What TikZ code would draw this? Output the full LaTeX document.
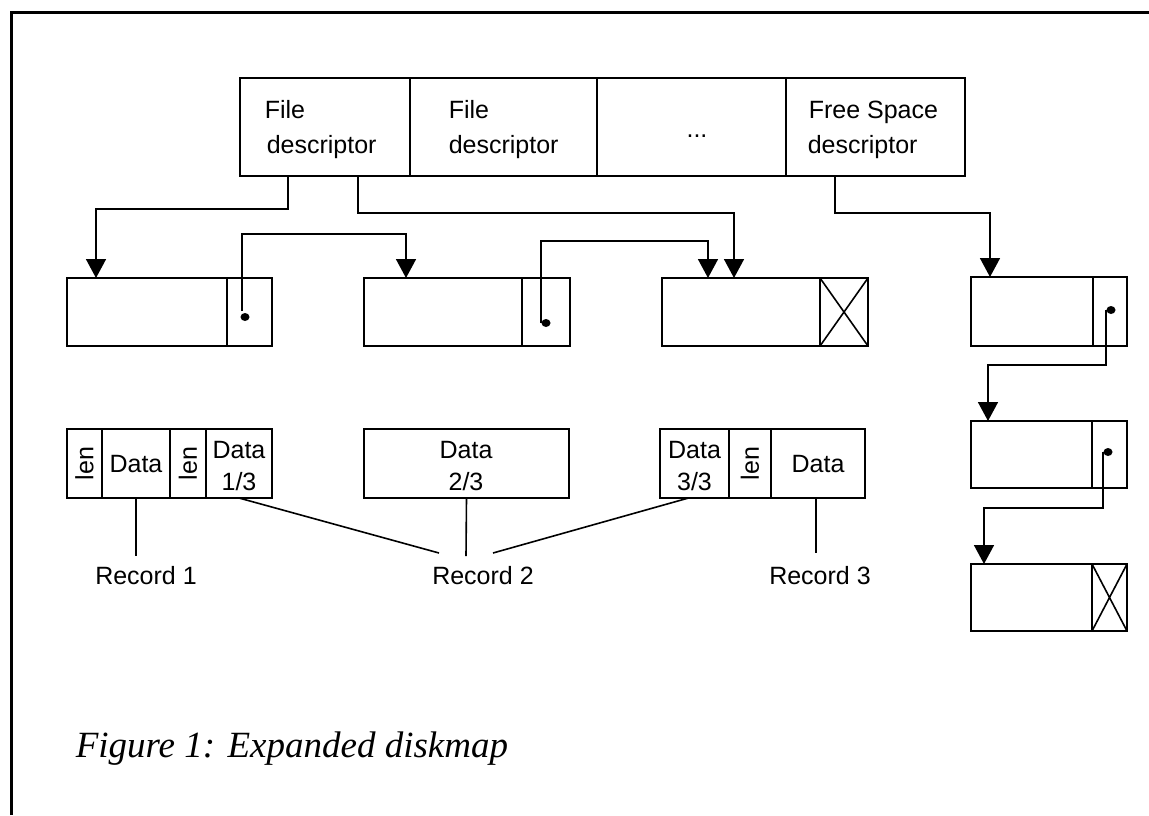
\documentclass[tikz,border=0pt]{standalone}
\usepackage{fontspec}
\setmainfont{Liberation Sans}
\newfontfamily\capfont{Liberation Serif}
\usetikzlibrary{arrows.meta,shapes.geometric}
\begin{document}
\begin{tikzpicture}[x=1pt,y=-1pt,
  line width=1.6pt,
  cell/.style={draw, rectangle, inner sep=0pt, outer sep=0pt, anchor=north west},
  arr/.style={-{Triangle[width=20pt,length=19pt]}},
  dot/.style={ellipse, fill, inner sep=0pt, minimum width=9pt, minimum height=8pt},
  lbl/.style={font=\fontsize{25}{33}\selectfont, inner sep=0pt, anchor=base},
  lblw/.style={font=\fontsize{25}{33}\selectfont, inner sep=0pt, anchor=base west},
  rlbl/.style={font=\fontsize{25}{33}\selectfont, inner sep=0pt, rotate=90},
]
\useasboundingbox (0,0) rectangle (1149,815);
% frame
\draw[line width=3pt] (11,815) -- (11,12) -- (1149,12);

% descriptor table
\node[cell, minimum width=170, minimum height=98] (d1) at (240,78) {};
\node[cell, minimum width=187, minimum height=98] (d2) at (410,78) {};
\node[cell, minimum width=189, minimum height=98] (d3) at (597,78) {};
\node[cell, minimum width=179, minimum height=98] (d4) at (786,78) {};
\node[lblw] (t1a) at (264,118) {File};
\node[lblw] (t1b) at (266,153) {descriptor};
\node[lblw] (t2a) at (448,118) {File};
\node[lblw] (t2b) at (448,153) {descriptor};
\node[lbl] (t3) at (697,137) {...};
\node[lblw] (t4a) at (808,118) {Free Space};
\node[lblw] (t4b) at (807,153) {descriptor};

% first row of blocks
\node[cell, minimum width=160, minimum height=68] (b1m) at (67,278) {};
\node[cell, minimum width=45, minimum height=68] (b1p) at (227,278) {};
\node[cell, minimum width=158, minimum height=68] (b2m) at (364,278) {};
\node[cell, minimum width=48, minimum height=68] (b2p) at (522,278) {};
\node[cell, minimum width=158, minimum height=68] (b3m) at (662,278) {};
\node[cell, minimum width=48, minimum height=68] (b3x) at (820,278) {};
\draw (b3x.north west) -- (b3x.south east) (b3x.south west) -- (b3x.north east);

% free space chain
\node[cell, minimum width=122, minimum height=69] (b4m) at (971,277) {};
\node[cell, minimum width=34, minimum height=69] (b4p) at (1093,277) {};
\node[cell, minimum width=121, minimum height=67] (b5m) at (971,421) {};
\node[cell, minimum width=35, minimum height=67] (b5p) at (1092,421) {};
\node[cell, minimum width=121, minimum height=67] (b6m) at (971,564) {};
\node[cell, minimum width=35, minimum height=67] (b6x) at (1092,564) {};
\draw (b6x.north west) -- (b6x.south east) (b6x.south west) -- (b6x.north east);

% pointer dots
\node[dot] (p1) at (245,317) {};
\node[dot] (p2) at (546,323) {};
\node[dot] (p4) at (1111,310) {};
\node[dot] (p5) at (1108,452) {};

% connectors from descriptors
\draw[arr] ([xshift=-37pt]d1.south) |- ([xshift=29pt,yshift=69pt]b1m.north west) -- ([xshift=29pt]b1m.north west);
\draw[arr] ([xshift=33pt]d1.south) |- ([xshift=72pt,yshift=65pt]b3m.north west) -- ([xshift=72pt]b3m.north west);
\draw[arr] ([xshift=-40.5pt]d4.south) |- ([xshift=19pt,yshift=64pt]b4m.north west) -- ([xshift=19pt]b4m.north west);

% chain pointers
\draw[arr] ([xshift=-3pt,yshift=6pt]p1.center) |- ([xshift=42pt,yshift=44pt]b2m.north west) -- ([xshift=42pt]b2m.north west);
\draw[arr] (p2.west) |- ([xshift=46pt,yshift=37pt]b3m.north west) -- ([xshift=46pt]b3m.north west);
\draw[arr] (p4.west) |- ([xshift=17pt,yshift=56pt]b5m.north west) -- ([xshift=17pt]b5m.north west);
\draw[arr] (p5.west) |- ([xshift=13pt,yshift=56pt]b6m.north west) -- ([xshift=13pt]b6m.north west);

% records
\node[cell, minimum width=35, minimum height=69] (r1a) at (67,429) {};
\node[cell, minimum width=68, minimum height=69] (r1b) at (102,429) {};
\node[cell, minimum width=36, minimum height=69] (r1c) at (170,429) {};
\node[cell, minimum width=66, minimum height=69] (r1d) at (206,429) {};
\node[cell, minimum width=205, minimum height=69] (r2) at (364,429) {};
\node[cell, minimum width=69, minimum height=69] (r3a) at (660,429) {};
\node[cell, minimum width=42, minimum height=69] (r3b) at (729,429) {};
\node[cell, minimum width=94, minimum height=69] (r3c) at (771,429) {};

\node[rlbl] (len1) at (r1a.center) {len};
\node[lbl] (x1) at (136,472) {Data};
\node[rlbl] (len2) at (r1c.center) {len};
\node[lbl] (x2a) at (239,458) {Data};
\node[lbl] (x2b) at (239,490) {1/3};
\node[lbl] (x3a) at (466,458) {Data};
\node[lbl] (x3b) at (466,490) {2/3};
\node[lbl] (x4a) at (694.5,458) {Data};
\node[lbl] (x4b) at (694.5,490) {3/3};
\node[rlbl] (len3) at (r3b.center) {len};
\node[lbl] (x5) at (818,472) {Data};

% record labels
\node[lbl] (rec1) at (146,584) {Record 1};
\node[lbl] (rec2) at (483,584) {Record 2};
\node[lbl] (rec3) at (820,584) {Record 3};
\coordinate (e1) at (136,556);
\coordinate (e2a) at (439,553);
\coordinate (e2b) at (466,556);
\coordinate (e2c) at (493,553);
\coordinate (e3) at (816,553);
\draw (r1b.south) -- (e1);
\draw (r1d.south) -- (e2a);
\draw (r2.south) -- (e2b);
\draw ([xshift=-6pt]r3a.south) -- (e2c);
\draw ([xshift=-2pt]r3c.south) -- (e3);

% caption
\node[font=\capfont\itshape\fontsize{37}{40}\selectfont, anchor=base west, inner sep=0pt] (cap) at (75,757) {Figure 1: Expanded diskmap};
\end{tikzpicture}
\end{document}
